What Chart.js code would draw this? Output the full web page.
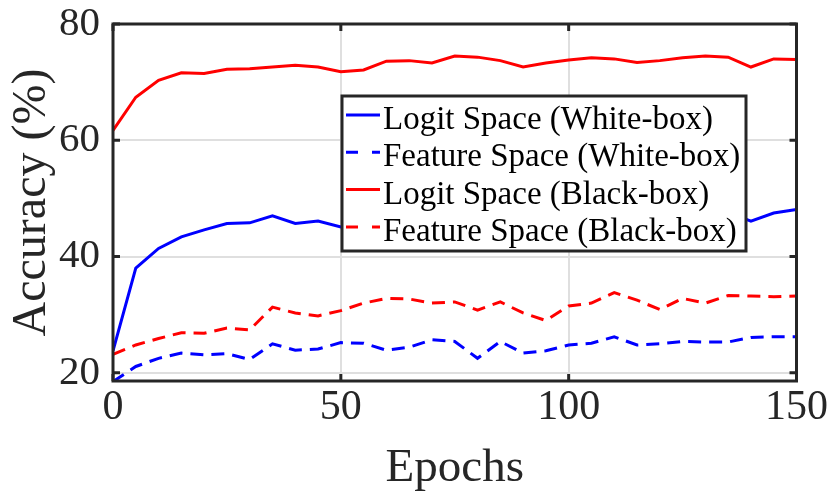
<!DOCTYPE html>
<html>
<head>
<meta charset="utf-8">
<script src="https://cdn.jsdelivr.net/npm/chart.js@4.4.1/dist/chart.umd.min.js"></script>
<style>
  html, body { margin: 0; padding: 0; background: #fff; }
  canvas { display: block; }
</style>
</head>
<body>
<canvas id="accChart" width="830" height="499"></canvas>
<script>
const epochs = [0, 5, 10, 15, 20, 25, 30, 35, 40, 45, 50, 55, 60, 65, 70, 75,
  80, 85, 90, 95, 100, 105, 110, 115, 120, 125, 130, 135, 140, 145, 150];

const logitWhite = [23.8, 38.0, 41.4, 43.4, 44.6, 45.7, 45.8, 47.0, 45.7, 46.1, 45.1,
  45.6, 46.4, 46.0, 46.9, 47.3, 46.7, 47.5, 46.8, 47.2, 47.7, 47.1, 48.0, 47.4, 47.8,
  48.2, 47.9, 47.6, 46.1, 47.5, 48.1];
const featureWhite = [18.5, 21.1, 22.5, 23.4, 23.1, 23.3, 22.3, 25.0, 23.9, 24.1, 25.2,
  25.1, 23.9, 24.4, 25.7, 25.4, 22.5, 25.4, 23.4, 23.8, 24.8, 25.1, 26.2, 24.8, 25.0,
  25.4, 25.3, 25.3, 26.1, 26.2, 26.2];
const logitBlack = [61.7, 67.4, 70.3, 71.6, 71.5, 72.2, 72.3, 72.6, 72.9, 72.6, 71.8,
  72.1, 73.6, 73.7, 73.3, 74.5, 74.3, 73.7, 72.6, 73.3, 73.8, 74.2, 74.0, 73.4, 73.7,
  74.2, 74.5, 74.3, 72.6, 74.0, 73.9];
const featureBlack = [23.2, 24.8, 25.9, 26.9, 26.8, 27.7, 27.4, 31.3, 30.3, 29.8, 30.7,
  32.0, 32.8, 32.7, 32.0, 32.2, 30.8, 32.2, 30.3, 29.0, 31.5, 32.0, 33.8, 32.5, 30.9,
  32.8, 32.0, 33.3, 33.2, 33.1, 33.2];

const seriesNames = [
  "Logit Space (White-box)",
  "Feature Space (White-box)",
  "Logit Space (Black-box)",
  "Feature Space (Black-box)",
];

const xTicks = [0, 50, 100, 150];
const yTicks = [20, 40, 60, 80];
const xMin = 0, xMax = 150;
const yMin = 18.6, yMax = 80;

const SERIF = '"Liberation Serif", "Times New Roman", serif';
const INK = "#262626";
const DASH = [13, 8];

function points(values) {
  return epochs.map((e, i) => ({ x: e, y: values[i] }));
}

// box + inward tick marks, drawn over the lines like matlab does
const framePlugin = {
  id: "frame",
  afterDatasetsDraw(chart) {
    const { ctx, chartArea: a, scales } = chart;
    ctx.save();
    ctx.strokeStyle = INK;
    ctx.lineWidth = 3;
    ctx.strokeRect(a.left, a.top, a.right - a.left, a.bottom - a.top);
    const len = 7;
    ctx.beginPath();
    xTicks.forEach((v) => {
      const px = scales.x.getPixelForValue(v);
      ctx.moveTo(px, a.bottom); ctx.lineTo(px, a.bottom - len);
      ctx.moveTo(px, a.top); ctx.lineTo(px, a.top + len);
    });
    yTicks.forEach((v) => {
      const py = scales.y.getPixelForValue(v);
      ctx.moveTo(a.left, py); ctx.lineTo(a.left + len, py);
      ctx.moveTo(a.right, py); ctx.lineTo(a.right - len, py);
    });
    ctx.stroke();
    ctx.restore();
  },
};

const boxLegend = {
  id: "boxLegend",
  afterDraw(chart, args, opts) {
    const { ctx } = chart;
    const ds = chart.data.datasets;
    ctx.save();
    ctx.fillStyle = "#fff";
    ctx.fillRect(opts.left, opts.top, opts.width, opts.height);
    ctx.strokeStyle = INK;
    ctx.lineWidth = 3;
    ctx.strokeRect(opts.left, opts.top, opts.width, opts.height);
    ctx.font = opts.fontSize + "px " + SERIF;
    ctx.textBaseline = "alphabetic";
    ctx.textAlign = "left";
    ds.forEach((d, i) => {
      const base = opts.firstBaseline + i * opts.rowGap;
      const ly = base - 14;
      ctx.strokeStyle = d.borderColor;
      ctx.lineWidth = 3;
      ctx.setLineDash(d.borderDash && d.borderDash.length ? [12, 14] : []);
      ctx.beginPath();
      ctx.moveTo(opts.left + 4, ly);
      ctx.lineTo(opts.left + 38, ly);
      ctx.stroke();
      ctx.setLineDash([]);
      ctx.fillStyle = "#000";
      ctx.fillText(d.label, opts.left + 41, base);
    });
    ctx.restore();
  },
};

const colors = ["#0000ff", "#0000ff", "#ff0000", "#ff0000"];
const dashes = [[], DASH, [], DASH];
const allValues = [logitWhite, featureWhite, logitBlack, featureBlack];

new Chart(document.getElementById("accChart"), {
  type: "line",
  data: {
    datasets: allValues.map((vals, i) => ({
      label: seriesNames[i],
      data: points(vals),
      borderColor: colors[i],
      borderDash: dashes[i],
      borderWidth: 3,
      pointRadius: 0,
      tension: 0,
      fill: false,
    })),
  },
  options: {
    responsive: false,
    animation: false,
    layout: { padding: { top: 24, right: 33, left: 0, bottom: 0 } },
    plugins: {
      legend: { display: false },
      tooltip: { enabled: false },
      boxLegend: {
        left: 342, top: 96, width: 404, height: 155,
        fontSize: 33, firstBaseline: 129, rowGap: 37.3,
      },
    },
    scales: {
      x: {
        type: "linear",
        min: xMin,
        max: xMax,
        afterBuildTicks: (s) => { s.ticks = xTicks.map((v) => ({ value: v })); },
        afterFit: (s) => { s.height = 118; },
        border: { display: false },
        grid: { color: "#dfdfdf", lineWidth: 2, drawTicks: false },
        ticks: { color: INK, padding: 2, font: { family: SERIF, size: 42 }, maxRotation: 0 },
        title: {
          display: true,
          text: "Epochs",
          color: INK,
          font: { family: SERIF, size: 47, lineHeight: 1.2 },
          padding: { top: 0, bottom: 2 },
        },
      },
      y: {
        min: yMin,
        max: yMax,
        afterBuildTicks: (s) => { s.ticks = yTicks.map((v) => ({ value: v })); },
        afterFit: (s) => { s.width = 113; },
        border: { display: false },
        grid: { color: "#dfdfdf", lineWidth: 2, drawTicks: false },
        ticks: { color: INK, padding: 13, font: { family: SERIF, size: 41, lineHeight: 0.5 } },
        title: {
          display: true,
          text: "Accuracy (%)",
          color: INK,
          font: { family: SERIF, size: 48, lineHeight: 1.2 },
          padding: { top: 4, bottom: 0 },
        },
      },
    },
  },
  plugins: [framePlugin, boxLegend],
});
</script>
</body>
</html>
